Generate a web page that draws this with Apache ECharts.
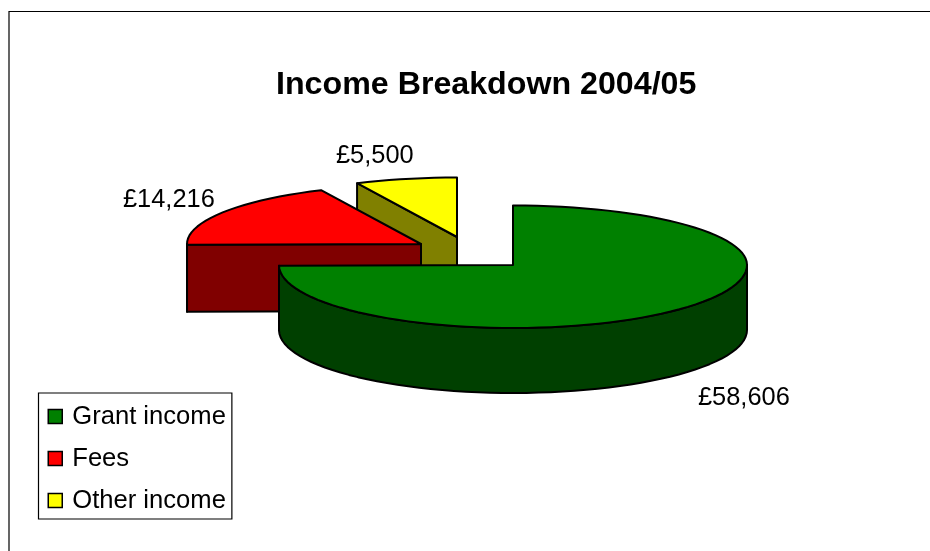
<!DOCTYPE html>
<html>
<head>
<meta charset="utf-8">
<style>
  html, body { margin: 0; padding: 0; background: #fff; }
  #chart { width: 930px; height: 551px; }
</style>
</head>
<body>
<div id="chart"></div>
<script src="https://cdn.jsdelivr.net/npm/echarts@6/dist/echarts.min.js"></script>
<script>
var categories = ["Grant income", "Fees", "Other income"];
var values = [58606, 14216, 5500];

// look of the fake 3d pie
var FONT = '"Liberation Sans", Arial, sans-serif';
var topColors = ["#008000", "#ff0000", "#ffff00"];
var sideColors = ["#004000", "#800000", "#808000"];
var centers = [[513, 265], [421, 244], [457, 237]];
var depths = [65, 67, 65];
var labelPos = [[698, 385], [123, 187], [336, 143]];
var rx = 234, ryBack = 59.5, ryFront = 63;

var total = values.reduce(function (a, b) { return a + b; }, 0);

function fmt(v) {
  return "£" + String(v).replace(/\B(?=(\d{3})+$)/g, ",");
}

// angle in degrees, clockwise from 12 o'clock
function pt(c, deg, dy) {
  var r = deg * Math.PI / 180;
  var cos = Math.cos(r);
  return [c[0] + rx * Math.sin(r), c[1] - (cos > 0 ? ryBack : ryFront) * cos + (dy || 0)];
}

function arc(c, from, to, dy) {
  var pts = [];
  var n = Math.max(2, Math.ceil(Math.abs(to - from) / 3));
  for (var i = 0; i <= n; i++) {
    pts.push(pt(c, from + (to - from) * i / n, dy));
  }
  return pts;
}

function poly(points, fill) {
  return {
    type: "polygon",
    shape: { points: points },
    style: { fill: fill, stroke: "#000", lineWidth: 2, lineJoin: "round" }
  };
}

function makeRender(idx) {
  return function () {
    var start = 0;
    for (var i = 0; i < idx; i++) start += values[i] / total * 360;
    var end = start + values[idx] / total * 360;
    var c = centers[idx];
    var depth = depths[idx];
    var children = [];

    // wall along the starting radius, faces the viewer on the back half
    if (start > 180) {
      children.push(poly([pt(c, start), [c[0], c[1]], [c[0], c[1] + depth], pt(c, start, depth)], sideColors[idx]));
    }
    // curved wall on the front half
    var from = Math.max(start, 90), to = Math.min(end, 270);
    if (to > from) {
      var wall = arc(c, from, to, 0).concat(arc(c, to, from, depth));
      children.push(poly(wall, sideColors[idx]));
    }
    // top face
    children.push(poly([[c[0], c[1]]].concat(arc(c, start, end, 0)), topColors[idx]));

    children.push({
      type: "text",
      style: {
        text: fmt(values[idx]),
        x: labelPos[idx][0],
        y: labelPos[idx][1],
        verticalAlign: "top",
        font: "25.4px " + FONT,
        fill: "#000"
      }
    });
    return { type: "group", children: children };
  };
}

var chart = echarts.init(document.getElementById("chart"), null, { renderer: "canvas" });

var series = categories.map(function (name, i) {
  return {
    type: "custom",
    name: name,
    coordinateSystem: "none",
    z: 4 - i,
    silent: true,
    animation: false,
    itemStyle: { color: topColors[i] },
    data: [values[i]],
    renderItem: makeRender(i)
  };
});

chart.setOption({
  animation: false,
  backgroundColor: "#fff",
  title: {
    text: "Income Breakdown 2004/05",
    left: 276,
    top: 69,
    padding: 0,
    textStyle: { fontFamily: FONT, fontSize: 32.2, fontWeight: "bold", color: "#000" }
  },
  legend: {
    left: 38.5,
    top: 393,
    orient: "vertical",
    data: categories.map(function (name, i) {
      return { name: name, icon: "rect", itemStyle: { color: topColors[i], borderColor: "#000", borderWidth: 1.5 } };
    }),
    backgroundColor: "#fff",
    borderColor: "#000",
    borderWidth: 1.2,
    padding: [9, 6, 4, 9],
    itemWidth: 14,
    itemHeight: 14,
    itemGap: 13,
    selectedMode: false,
    textStyle: { fontFamily: FONT, fontSize: 25.6, color: "#000", padding: [0, 0, 0, 5], lineHeight: 29 }
  },
  graphic: [{
    type: "polyline",
    shape: { points: [[9, 551], [9, 11.5], [930, 11.5]] },
    style: { fill: null, stroke: "#000", lineWidth: 1.2 },
    silent: true
  }],
  series: series
});
</script>
</body>
</html>
